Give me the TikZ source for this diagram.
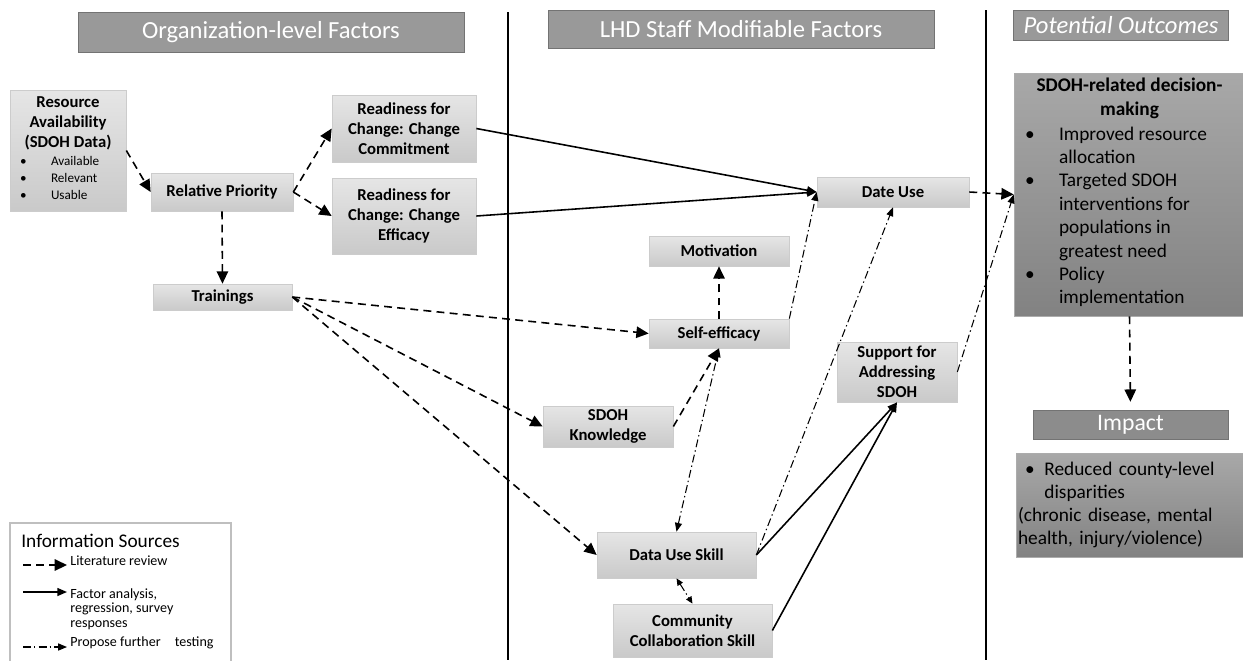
\documentclass[tikz,border=0pt]{standalone}
\usepackage{fontspec}
\setmainfont{Carlito}
\usetikzlibrary{arrows.meta,positioning}

\tikzset{
	factor/.style={draw=gray!40, top color=gray!20, bottom color=gray!42, align=center, inner sep=1pt,
		font=\bfseries\fontsize{9.5}{11.3}\selectfont},
	header/.style={draw=black!55, fill=gray!80, text=white, inner sep=0pt,
		font=\fontsize{14}{16}\selectfont},
	outcome/.style={draw=gray!65, top color=gray!68, bottom color=gray!98, inner sep=0pt},
	lit/.style={line width=0.9pt, dash pattern=on 4.5pt off 3pt, -{Triangle[length=7pt,width=6.5pt]}},
	fa/.style={line width=0.9pt, -{Triangle[length=5.5pt,width=4.5pt]}},
	pft/.style={line width=0.6pt, dash pattern=on 4.5pt off 1.8pt on 0.8pt off 1.8pt, -{Triangle[length=5pt,width=4pt]}},
}

\begin{document}
\begin{tikzpicture}[x=0.02cm,y=-0.02cm]

	\useasboundingbox (0,0) rectangle (1243,660);

	% column headers and dividers
	\node[header, minimum width=7.72cm, minimum height=0.8cm] (orgf) at (271,32) {Organization-level Factors};
	\node[header, minimum width=7.72cm, minimum height=0.76cm] (lhdf) at (741,29) {LHD Staff Modifiable Factors};
	\node[header, minimum width=4.3cm, minimum height=0.6cm, font=\itshape\fontsize{14}{16}\selectfont] (poth) at (1121,25) {Potential Outcomes};
	\draw[line width=1pt] (508,12) -- (508,660);
	\draw[line width=1pt] (986,10) -- (986,660);

	% organization-level factors
	\node[factor, minimum width=2.32cm, minimum height=2.42cm] (res) at (68,150.5)
		{Resource\\Availability\\(SDOH Data)\\[-1pt]
		{\normalfont\fontsize{7.5}{9.6}\selectfont
		\begin{tabular}[t]{@{}p{0.62cm}@{}p{1.3cm}@{}}\textbullet&Available\\\textbullet&Relevant\\\textbullet&Usable\end{tabular}}};
	\node[factor, minimum width=2.84cm, minimum height=0.76cm] (rp) at (222,192) {Relative Priority};
	\node[factor, minimum width=2.88cm, minimum height=1.34cm] (chc) at (404,128.5) {Readiness for\\Change: Change\\Commitment};
	\node[factor, minimum width=2.88cm, minimum height=1.52cm] (che) at (404,216) {Readiness for\\Change: Change\\Efficacy};
	\node[factor, minimum width=2.78cm, minimum height=0.52cm] (tr) at (222.5,297) {Trainings};

	% staff factors
	\node[factor, minimum width=3.04cm, minimum height=0.6cm] (du) at (893,192) {Date Use};
	\node[factor, minimum width=2.8cm, minimum height=0.6cm] (mot) at (719,251) {Motivation};
	\node[factor, minimum width=2.8cm, minimum height=0.58cm] (se) at (719,333.5) {Self-efficacy};
	\node[factor, minimum width=2.6cm, minimum height=0.82cm] (kn) at (608,426.5) {SDOH\\Knowledge};
	\node[factor, minimum width=2.4cm, minimum height=1.2cm] (sup) at (897,372) {Support for\\Addressing\\SDOH};
	\node[factor, minimum width=3.18cm, minimum height=0.92cm] (dus) at (676.5,555) {Data Use Skill};
	\node[factor, minimum width=3.18cm, minimum height=1.06cm] (cc) at (692.5,630.5) {Community\\Collaboration Skill};

	% outcomes
	\node[outcome, minimum width=4.62cm, minimum height=4.86cm, align=center, font=\fontsize{11}{13.3}\selectfont] (dm) at (1129.5,194.5)
		{\textbf{SDOH-related decision-}\\\textbf{making}\\[1pt]
		\begin{tabular}[t]{@{}p{0.68cm}@{}p{3.5cm}@{}}\textbullet&Improved resource\\&allocation\\\textbullet&Targeted SDOH\\&interventions for\\&populations in\\&greatest need\\\textbullet&Policy\\&implementation\end{tabular}};
	\node[header, fill=gray!90, minimum width=3.9cm, minimum height=0.58cm, font=\fontsize{13.5}{15}\selectfont] (imph) at (1130.5,424.5) {Impact};
	\node[outcome, text width=4.5cm, inner xsep=0.04cm, minimum height=2.08cm, align=left, font=\fontsize{11}{13}\selectfont] (imp) at (1130.5,505)
		{\makebox[15pt][l]{\hspace*{4pt}\textbullet}Reduced county-level\\\hspace*{15pt}disparities\\(chronic disease, mental\\health, injury/violence)};

	% literature review
	\draw[lit] (res.east) -- (rp.west);
	\draw[lit] (rp.east) -- (chc.west);
	\draw[lit] (rp.east) -- (che.west);
	\draw[lit] (rp.south) -- (tr.north);
	\draw[lit] (tr.east) -- (se.west);
	\draw[lit] (tr.east) -- (kn.west);
	\draw[lit] (tr.east) -- (dus.west);
	\draw[lit] (se.north) -- (mot.south);
	\draw[lit] (kn.east) -- (se.south);
	\draw[lit] (du.east) -- (dm.west);
	\draw[lit, shorten >=4.5pt] (dm.south) -- (imph.north);

	% factor analysis
	\draw[fa] (chc.east) -- (du.west);
	\draw[fa] (che.east) -- (du.west);
	\draw[fa] (dus.east) -- (sup.south);
	\draw[fa] (cc.east) -- (sup.south);

	% further testing
	\draw[pft, {Triangle[length=5pt,width=4pt]}-{Triangle[length=5pt,width=4pt]}] (dus.north) -- (se.south);
	\draw[pft, {Triangle[length=4pt,width=3.5pt]}-{Triangle[length=4pt,width=3.5pt]}] (dus.south) -- (cc.north);
	\draw[pft] (se.north east) -- (du.west);
	\draw[pft] (dus.east) -- (du.south);
	\draw[pft] (sup.east) -- (dm.west);

	% legend
	\draw[gray!50, line width=0.8pt] (10,662) |- (231,523) -- (231,662);
	\node[anchor=west, inner sep=0pt, font=\fontsize{11}{13}\selectfont] (lgt) at (21,541) {Information Sources};
	\coordinate (l1a) at (23,565);
	\coordinate (l1b) at (67,565);
	\coordinate (l2a) at (23,592);
	\coordinate (l2b) at (67,592);
	\coordinate (l3a) at (23,647);
	\coordinate (l3b) at (67,647);
	\draw[lit] (l1a) -- (l1b);
	\draw[fa] (l2a) -- (l2b);
	\draw[pft] (l3a) -- (l3b);
	\node[anchor=west, inner sep=0pt, font=\fontsize{8}{8.3}\selectfont] (l1) at (70,561) {Literature review};
	\node[anchor=north west, inner sep=0pt, align=left, font=\fontsize{8}{8.3}\selectfont] (l2) at (70,588) {Factor analysis,\\regression, survey\\responses};
	\node[anchor=west, inner sep=0pt, font=\fontsize{8}{8.3}\selectfont] (l3) at (70,643) {Propose further\hspace{8pt}testing};

\end{tikzpicture}
\end{document}
